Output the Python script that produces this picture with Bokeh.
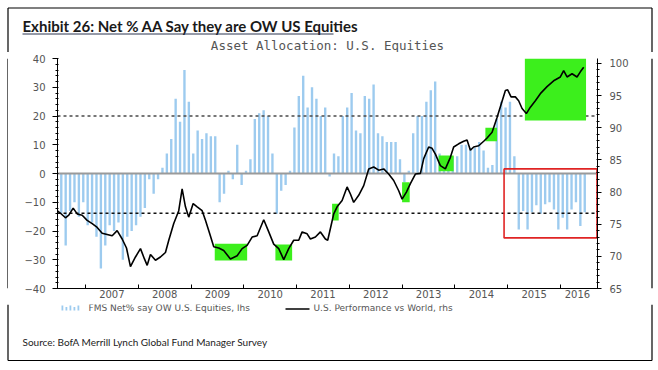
import pandas as pd
from bokeh.plotting import figure
from bokeh.layouts import column, row
from bokeh.models import Range1d, LinearAxis, FixedTicker
from bokeh.core.properties import value
from bokeh.embed import file_html
from bokeh.resources import INLINE

# ---------------- data ----------------
bar_start = "2006-06"
bar_values = [
    -10, -14, -25, -13, -10, -15, -10, -18, -17, -22, -33, -25, -18, -20, -17, -30,
    -22, -20, -18, -15, -12, -2, -7, -2, 2, 7, 12, 26, 18, 36, 25, 7,
    15, 12, 14, 13, 13, -10, -7, 1, -2, 10, -4, 1, 5, 19, 21, 22,
    20, 7, -14, -6, -4, 1, 16, 27, 34, 23, 30, 26, 20, 23, -1, 7,
    6, 20, 23, 28, 15, 14, 27, 26, 31, 14, 13, 11, 11, 11, 5, -3,
    1, 14, 20, 20, 25, 29, 32, 7, 6, 6, 6, 6, 10, 10, 9, 9,
    11, 8, 2, 3, 19, 25, 23, 25, 6, -19.5, -13, -19.5, -13.5, -11, -14, -10.7,
    -10, -12.5, -19.5, -15.4, -19.5, -12.5, -10, -18.3, -13.5,
]

line_t = [
    2006.464, 2006.527, 2006.621, 2006.684, 2006.767, 2006.843, 2006.938, 2007.032,
    2007.127, 2007.222, 2007.316, 2007.411, 2007.506, 2007.600, 2007.695, 2007.777,
    2007.852, 2007.947, 2008.042, 2008.117, 2008.169, 2008.231, 2008.326, 2008.420,
    2008.515, 2008.578, 2008.672, 2008.767, 2008.831, 2008.894, 2008.956, 2009.040,
    2009.116, 2009.210, 2009.273, 2009.354, 2009.430, 2009.525, 2009.619, 2009.746,
    2009.873, 2009.968, 2010.062, 2010.157, 2010.252, 2010.377, 2010.472, 2010.566,
    2010.661, 2010.756, 2010.850, 2010.945, 2011.040, 2011.104, 2011.199, 2011.261,
    2011.356, 2011.451, 2011.545, 2011.589, 2011.653, 2011.703, 2011.767, 2011.862,
    2011.956, 2012.019, 2012.081, 2012.176, 2012.271, 2012.366, 2012.460, 2012.555,
    2012.650, 2012.744, 2012.839, 2012.934, 2012.998, 2013.080, 2013.155, 2013.250,
    2013.345, 2013.408, 2013.502, 2013.566, 2013.629, 2013.723, 2013.818, 2013.913,
    2013.975, 2014.070, 2014.165, 2014.229, 2014.292, 2014.354, 2014.449, 2014.544,
    2014.608, 2014.703, 2014.797, 2014.873, 2014.955, 2014.998, 2015.062, 2015.144,
    2015.206, 2015.271, 2015.352, 2015.428, 2015.523, 2015.617, 2015.744, 2015.869,
    2015.996, 2016.059, 2016.123, 2016.218, 2016.312, 2016.375, 2016.438,
]
line_v = [
    77.1, 76.7, 76.0, 76.4, 77.5, 76.6, 76.4, 75.6,
    75.1, 74.5, 73.6, 73.4, 73.2, 74.0, 72.7, 71.3,
    68.4, 69.9, 71.2, 69.6, 68.6, 70.3, 69.4, 69.9,
    70.6, 72.5, 75.1, 77.1, 80.5, 77.7, 76.1, 78.2,
    77.7, 77.1, 75.6, 73.5, 71.5, 71.3, 70.9, 69.6,
    70.1, 71.2, 71.7, 73.0, 73.2, 75.7, 73.8, 71.9,
    71.2, 69.5, 71.2, 72.5, 72.5, 73.8, 73.5, 72.7,
    73.0, 73.8, 72.7, 72.5, 74.8, 76.6, 77.7, 78.7,
    80.8, 79.7, 78.4, 79.5, 81.0, 83.6, 83.9, 83.4,
    83.6, 82.8, 81.8, 80.2, 78.9, 80.0, 81.3, 82.8,
    82.9, 85.2, 87.0, 86.8, 85.9, 84.1, 83.6, 85.4,
    87.0, 87.5, 87.9, 88.1, 86.5, 87.0, 87.2, 87.9,
    88.4, 89.3, 91.6, 93.6, 95.8, 95.9, 94.8, 94.8,
    94.2, 93.0, 92.2, 93.2, 94.2, 95.3, 96.4, 97.3,
    97.9, 98.9, 97.9, 98.4, 97.9, 98.7, 99.4,
]

# highlighted periods (green, right-axis units) and the red box (left-axis units)
green_t0 = [2009.449, 2010.598, 2011.672, 2012.998, 2013.691, 2014.576, 2015.324]
green_t1 = [2010.063, 2010.915, 2011.797, 2013.142, 2013.975, 2014.797, 2016.483]
green_v0 = [69.35, 69.35, 75.58, 78.42, 83.24, 87.91, 91.13]
green_v1 = [71.95, 71.84, 78.17, 81.53, 85.68, 89.99, 100.77]
red_t0, red_t1, red_v0, red_v1 = [2014.93], [2016.69], [-22.4], [1.6]

upper_level = 20
lower_level = -13.8

year_ticks = [2007, 2008, 2009, 2010, 2011, 2012, 2013, 2014, 2015, 2016]
year_label_pos = [2007.5, 2008.5, 2009.5, 2010.5, 2011.5, 2012.5, 2013.5, 2014.5, 2015.5, 2016.32]
year_labels = ["2007", "2008", "2009", "2010", "2011", "2012", "2013", "2014", "2015", "2016"]

title_text = "Exhibit 26: Net % AA Say they are OW US Equities"
subtitle_text = "Asset Allocation: U.S. Equities"
legend_bar_text = "FMS Net% say OW U.S. Equities, lhs"
legend_line_text = "U.S. Performance vs World, rhs"
source_text = "Source: BofA Merrill Lynch Global Fund Manager Survey"

# ---------------- layout constants (canvas px) ----------------
W = 656
TOP_H = 52
MAIN_Y0, MAIN_H = 52, 252
BOT_Y0, BOT_H = 304, 64
LSTRIP_W, MAIN_W, RSTRIP_W = 8, 642, 6
BX0, BX1, BY0, BY1 = 7.5, 651.5, 7.5, 360.0
FRAME_COLOR = "black"


def panel(x0, y0, w, h):
    f = figure(width=w, height=h, output_backend="svg", toolbar_location=None,
               x_range=Range1d(x0, x0 + w), y_range=Range1d(y0 + h, y0),
               x_axis_location=None, y_axis_location=None, min_border=0,
               background_fill_color="white", border_fill_color="white")
    f.outline_line_color = None
    f.grid.visible = False
    return f


# ---------------- top panel: title + subtitle ----------------
top = panel(0, 0, W, TOP_H)
top.line(x=[BX0, BX1], y=[BY0, BY0], line_color=FRAME_COLOR, line_width=1.2)
top.line(x=[BX0, BX0], y=[BY0, TOP_H], line_color=FRAME_COLOR, line_width=1.2)
top.line(x=[BX1, BX1], y=[BY0, TOP_H], line_color=FRAME_COLOR, line_width=1.2)
top.text(x=[22], y=[25], text=[title_text], text_font=value("Lato"), text_font_style="bold",
         text_font_size="15px", text_color="#1a1a1a", text_baseline="middle", text_align="left")
top.line(x=[22, 333], y=[33.5, 33.5], line_color="#2a3550", line_width=1)
top.text(x=[327], y=[45], text=[subtitle_text], text_font=value("DejaVu Sans Mono"),
         text_font_size="12.5px", text_color="#555555", text_baseline="middle", text_align="center")

# ---------------- side strips ----------------
lstrip = panel(0, MAIN_Y0, LSTRIP_W, MAIN_H)
lstrip.line(x=[BX0, BX0], y=[MAIN_Y0, MAIN_Y0 + MAIN_H], line_color=FRAME_COLOR, line_width=1.2)
rstrip = panel(LSTRIP_W + MAIN_W, MAIN_Y0, RSTRIP_W, MAIN_H)
rstrip.line(x=[BX1, BX1], y=[MAIN_Y0, MAIN_Y0 + MAIN_H], line_color=FRAME_COLOR, line_width=1.2)

# ---------------- main chart ----------------
months = pd.period_range(bar_start, periods=len(bar_values), freq="M")
bar_x = [m.year + (m.month - 0.5) / 12 for m in months]

X0, X1 = 2006.47, 2016.70
p = figure(width=MAIN_W, height=MAIN_H, output_backend="svg", toolbar_location=None,
           x_range=Range1d(X0, X1), y_range=Range1d(-40, 40),
           min_border_left=49, min_border_right=53, min_border_top=6, min_border_bottom=16,
           background_fill_color="white", border_fill_color="white")
p.extra_y_ranges = {"right": Range1d(65, 100.77)}
p.grid.visible = False
p.outline_line_color = None

TICK_FONT = "DejaVu Sans"
TICK_COLOR = "#555555"
TICK_SIZE = "10px"

xa = p.xaxis[0]
xa.ticker = FixedTicker(ticks=year_label_pos, minor_ticks=year_ticks)
xa.major_label_overrides = {pos: lab for pos, lab in zip(year_label_pos, year_labels)}
xa.major_tick_line_color = None
xa.major_tick_in = 0
xa.major_tick_out = 0
xa.minor_tick_in = 4
xa.minor_tick_out = 0
xa.minor_tick_line_color = "black"
xa.axis_line_color = "black"
xa.major_label_standoff = 1
xa.major_label_text_font = TICK_FONT
xa.major_label_text_font_size = TICK_SIZE
xa.major_label_text_color = TICK_COLOR

ya = p.yaxis[0]
ya.ticker = FixedTicker(ticks=list(range(-40, 41, 10)), minor_ticks=list(range(-40, 41, 2)))
ya.major_tick_in = 0
ya.major_tick_out = 5
ya.minor_tick_in = 1
ya.minor_tick_out = 2
ya.major_label_standoff = 7
ya.major_label_text_font = TICK_FONT
ya.major_label_text_font_size = TICK_SIZE
ya.major_label_text_color = TICK_COLOR
ya.axis_line_color = "black"

ra = LinearAxis(y_range_name="right")
ra.ticker = FixedTicker(ticks=list(range(65, 101, 5)), minor_ticks=list(range(65, 101, 1)))
ra.major_tick_in = 0
ra.major_tick_out = 4
ra.minor_tick_in = 1
ra.minor_tick_out = 2
ra.major_label_standoff = 8
ra.major_label_text_font = TICK_FONT
ra.major_label_text_font_size = TICK_SIZE
ra.major_label_text_color = TICK_COLOR
ra.axis_line_color = "black"
p.add_layout(ra, "right")

BAR_COLOR = "#9dcbef"
p.vbar(x=bar_x, top=bar_values, bottom=0, width=0.045, fill_color=BAR_COLOR, line_color=None)
p.line(x=[X0, X1], y=[0, 0], line_color="#9a9a9a", line_width=2)
p.line(x=[X0, X1], y=[upper_level, upper_level], line_color="#4a4a4a", line_width=1.6, line_dash="3 3")
p.line(x=[X0, X1], y=[lower_level, lower_level], line_color="#111111", line_width=1.6, line_dash="3 3")
p.quad(left=green_t0, right=green_t1, bottom=green_v0, top=green_v1, y_range_name="right",
       fill_color="#3cef1c", line_color=None)
p.line(x=line_t, y=line_v, y_range_name="right", line_color="black", line_width=1.6)
p.quad(left=red_t0, right=red_t1, bottom=red_v0, top=red_v1, fill_color=None,
       line_color="#e02424", line_width=1.6)

# ---------------- bottom panel: legend + source ----------------
bot = panel(0, BOT_Y0, W, BOT_H)
bot.line(x=[BX0, BX0], y=[BOT_Y0, BY1], line_color=FRAME_COLOR, line_width=1.2)
bot.line(x=[BX1, BX1], y=[BOT_Y0, BY1], line_color=FRAME_COLOR, line_width=1.2)
bot.line(x=[BX0, BX1], y=[BY1, BY1], line_color=FRAME_COLOR, line_width=1.2)
icon_x = [61, 65, 69, 73, 77]
icon_top = [305, 306.5, 305, 306.5, 305]
bot.quad(left=icon_x, right=[v + 1.8 for v in icon_x], top=icon_top, bottom=[310] * 5,
         fill_color=BAR_COLOR, line_color=None)
bot.text(x=[88], y=[307], text=[legend_bar_text], text_font=value("DejaVu Sans"),
         text_font_size="9px", text_color="#555555", text_baseline="middle", text_align="left")
bot.line(x=[285, 309], y=[308.5, 308.5], line_color="black", line_width=1.6)
bot.text(x=[313], y=[307], text=[legend_line_text], text_font=value("DejaVu Sans"),
         text_font_size="9px", text_color="#555555", text_baseline="middle", text_align="left")
bot.text(x=[22], y=[341], text=[source_text], text_font=value("Lato"),
         text_font_size="10px", text_color="#222222", text_baseline="middle", text_align="left")

layout = column(top, row(lstrip, p, rstrip, spacing=0), bot, spacing=0)
open("out.html", "w").write(file_html(layout, INLINE))
